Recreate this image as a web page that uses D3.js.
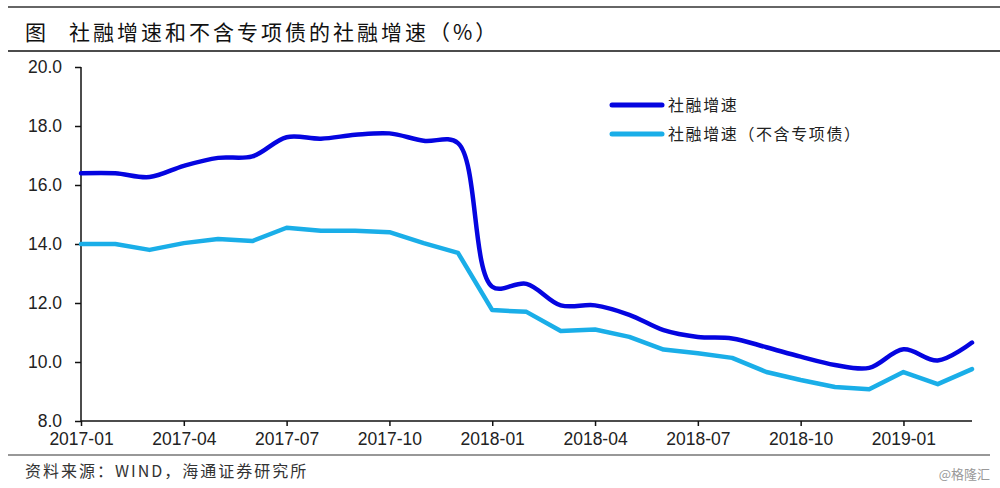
<!DOCTYPE html>
<html>
<head>
<meta charset="utf-8">
<script src="https://cdn.jsdelivr.net/npm/d3@7"></script>
<style>
  body { margin: 0; background: #fff; }
  svg { display: block; }
</style>
</head>
<body>
<div id="chart"></div>
<script>
// months shown on the x axis
const months = [
  "2017-01","2017-02","2017-03","2017-04","2017-05","2017-06","2017-07","2017-08","2017-09",
  "2017-10","2017-11","2017-12","2018-01","2018-02","2018-03","2018-04","2018-05","2018-06",
  "2018-07","2018-08","2018-09","2018-10","2018-11","2018-12","2019-01","2019-02","2019-03"
];
// 社融增速
const tsf = [
  16.4, 16.4, 16.27, 16.65, 16.92, 16.97, 17.62, 17.57, 17.7,
  17.75, 17.5, 17.42, 12.55, 12.65, 11.92, 11.92, 11.6, 11.08,
  10.85, 10.8, 10.5, 10.18, 9.9, 9.8, 10.43, 10.05, 10.66
];
// 社融增速（不含专项债）
const tsfExSpecial = [
  14.0, 14.0, 13.8, 14.03, 14.17, 14.1, 14.55, 14.45, 14.45,
  14.4, 14.03, 13.7, 11.76, 11.7, 11.05, 11.1, 10.85, 10.42,
  10.3, 10.14, 9.66, 9.39, 9.15, 9.08, 9.66, 9.25, 9.76
];
const xTicks = ["2017-01","2017-04","2017-07","2017-10","2018-01","2018-04","2018-07","2018-10","2019-01"];
const yTicks = [8, 10, 12, 14, 16, 18, 20];
const seriesNames = ["社融增速", "社融增速（不含专项债）"];

const W = 1000, H = 488;
const svg = d3.select("#chart").append("svg")
  .attr("width", W).attr("height", H);

// title band
svg.append("line").attr("x1", 8).attr("x2", 1000).attr("y1", 7).attr("y2", 7)
  .attr("stroke", "#333").attr("stroke-width", 1.5);
svg.append("line").attr("x1", 8).attr("x2", 1000).attr("y1", 51).attr("y2", 51)
  .attr("stroke", "#111").attr("stroke-width", 1.5);
svg.append("text").attr("x", 25).attr("y", 40)
  .attr("font-family", "Noto Sans CJK SC").attr("font-size", 21).attr("fill", "#111")
  .text("图");
svg.append("text").attr("x", 69).attr("y", 40)
  .attr("font-family", "Noto Sans CJK SC").attr("font-size", 21).attr("fill", "#111")
  .attr("letter-spacing", 3)
  .text("社融增速和不含专项债的社融增速（%）");

const x = d3.scalePoint().domain(months).range([81, 972]);
const y = d3.scaleLinear().domain([8, 20]).range([421, 67]);

const yAxis = svg.append("g").attr("transform", "translate(81,0)")
  .call(d3.axisLeft(y).tickValues(yTicks).tickFormat(d3.format(".1f")).tickSize(6).tickPadding(13));
const xAxis = svg.append("g").attr("transform", "translate(0,421)")
  .call(d3.axisBottom(x).tickValues(xTicks).tickSize(5).tickPadding(7));

[yAxis, xAxis].forEach(g => {
  g.select(".domain").attr("stroke", "#111").attr("stroke-width", 1.5);
  g.selectAll(".tick line").attr("stroke", "#111").attr("stroke-width", 1.5);
  g.selectAll(".tick text").attr("font-family", "Liberation Sans, Arial")
    .attr("font-size", 17.5).attr("fill", "#222");
});
xAxis.select(".domain").attr("d", "M81,0H972");
yAxis.select(".domain").attr("d", "M0,67V421");

const lineSmooth = d3.line()
  .x((d, i) => x(months[i])).y(d => y(d))
  .curve(d3.curveCatmullRom.alpha(0.5));
const lineStraight = d3.line()
  .x((d, i) => x(months[i])).y(d => y(d));

svg.append("path").datum(tsfExSpecial).attr("d", lineStraight)
  .attr("fill", "none").attr("stroke", "#1AAEE8").attr("stroke-width", 4.5)
  .attr("stroke-linejoin", "round").attr("stroke-linecap", "round");
svg.append("path").datum(tsf).attr("d", lineSmooth)
  .attr("fill", "none").attr("stroke", "#0505E0").attr("stroke-width", 4.5)
  .attr("stroke-linejoin", "round").attr("stroke-linecap", "round");

// legend
const legend = [{ c: "#0505E0", t: seriesNames[0], y: 105 }, { c: "#1AAEE8", t: seriesNames[1], y: 134 }];
legend.forEach(l => {
  svg.append("line").attr("x1", 612).attr("x2", 662).attr("y1", l.y).attr("y2", l.y)
    .attr("stroke", l.c).attr("stroke-width", 5).attr("stroke-linecap", "round");
  svg.append("text").attr("x", 668).attr("y", l.y + 6)
    .attr("font-family", "Noto Sans CJK SC").attr("font-size", 16).attr("fill", "#222")
    .attr("letter-spacing", 1.6)
    .text(l.t);
});

// footer
svg.append("line").attr("x1", 8).attr("x2", 990).attr("y1", 455).attr("y2", 455)
  .attr("stroke", "#333").attr("stroke-width", 1.2);
svg.append("text").attr("x", 25).attr("y", 477)
  .attr("font-family", "Noto Sans CJK SC").attr("font-size", 16).attr("fill", "#333")
  .attr("letter-spacing", 2)
  .text("资料来源：WIND，海通证券研究所");
svg.append("text").attr("x", 990).attr("y", 479).attr("text-anchor", "end")
  .attr("font-family", "Noto Sans CJK SC").attr("font-size", 13).attr("fill", "#999")
  .text("@格隆汇");
</script>
</body>
</html>
